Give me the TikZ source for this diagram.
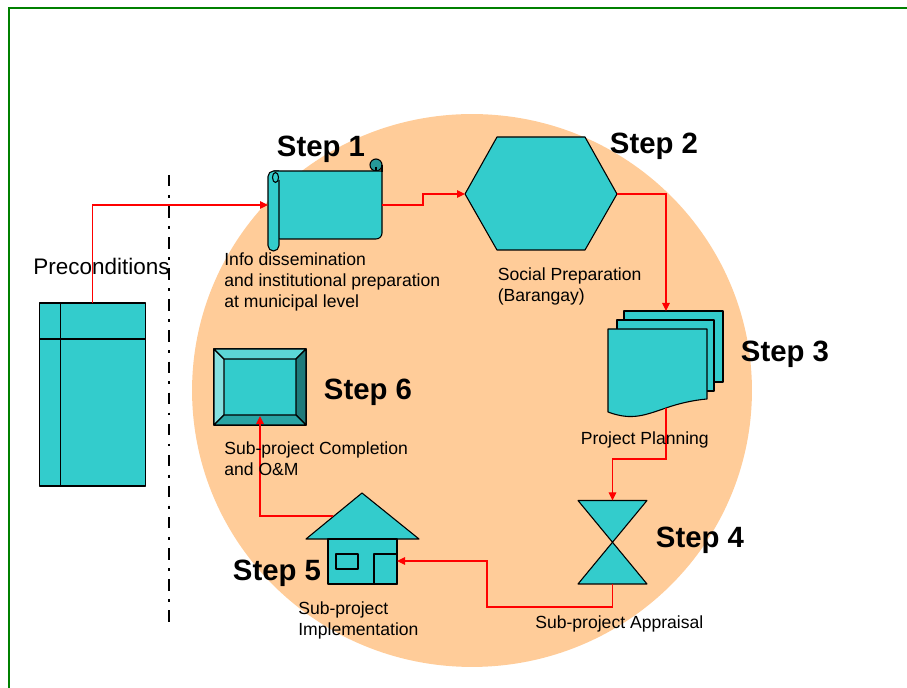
\documentclass[tikz,border=0pt]{standalone}
\usepackage{fontspec}
\setmainfont{Liberation Sans}
\usetikzlibrary{arrows.meta}
\definecolor{tealfill}{HTML}{33CCCC}
\definecolor{peach}{HTML}{FFCC99}
\begin{document}
\begin{tikzpicture}
[x=0.02cm,y=-0.02cm,%
  flowshape/.style={draw=black,line width=0.62pt,fill=tealfill,line join=round},
  anchorbox/.style={inner sep=0pt,outer sep=0pt},
  link/.style={draw=red,line width=0.62pt,-{Triangle[length=0.16cm,width=0.15cm]}},
  steplabel/.style={font=\fontsize{16.7}{20}\selectfont\bfseries,inner sep=0pt},
  infolabel/.style={font=\fontsize{10}{12}\selectfont,align=left,anchor=west,inner sep=0pt}]
\useasboundingbox (0,0) rectangle (907,688);
% frame and background
\draw[draw=green!50!black,line width=0.9pt] (907,8) -- (9,8) -- (9,688);
\fill[peach] (472,390.5) ellipse [x radius=5.6cm,y radius=5.53cm];
\draw[line width=1.7pt,dash pattern=on 6.5pt off 4.8pt on 1.6pt off 4.8pt] (169,175) -- (169,623);
% preconditions
\node[flowshape,anchorbox,minimum width=2.12cm,minimum height=3.66cm] (precond) at (92.8,394.5) {};
\draw[line width=0.62pt] (60.8,303) -- (60.8,486) (39.8,339) -- (145.8,339);
% step 1
\node[anchorbox,minimum width=2.28cm,minimum height=1.36cm] (scroll) at (325,205) {};
\draw[flowshape,fill=tealfill!75!black] (376,165) circle [radius=0.12cm];
\draw[flowshape] (274,171) -- (382,171) [rounded corners=0.12cm] -- (382,239) -- (274,239) [sharp corners] -- cycle;
\draw[line width=0.62pt] (382,165) -- (382,172) (376,167) -- (376,171);
\draw[flowshape,rounded corners=0.11cm] (279,180) -- (279,251) -- (268,251) -- (268,171) -- (279,171);
\draw[line width=0.62pt] (275.5,177.5) ellipse [x radius=0.06cm,y radius=0.1cm];
% step 2
\node[anchorbox,minimum width=3.04cm,minimum height=2.26cm] (hex) at (541,194) {};
\draw[flowshape] (hex.west) -- (497,137) -- (585,137) -- (hex.east) -- (585,250) -- (497,250) -- cycle;
% step 3
\coordinate (stackin) at (666,311);
\coordinate (stackout) at (666,408);
\draw[flowshape] (624,311) rectangle (723,382);
\draw[flowshape] (617,320) rectangle (714,391);
\draw[flowshape] (608,329) -- (707,329) -- (707,399)
  .. controls (695,400) and (680,403) .. (stackout)
  .. controls (645,415) and (632,421) .. (608,412) -- cycle;
% step 4
\node[anchorbox,minimum width=1.38cm,minimum height=1.67cm] (hourglass) at (612.5,542.2) {};
\draw[flowshape] (578,500.5) -- (647,500.5) -- (578,584) -- (647,584) -- cycle;
% step 5
\coordinate (roofout) at (333,516);
\coordinate (housein) at (397,561);
\draw[flowshape] (362,493) -- (419,539) -- (306,539) -- cycle;
\node[flowshape,anchorbox,minimum width=1.38cm,minimum height=0.9cm] (house) at (362.5,561.5) {};
\node[flowshape,anchorbox,minimum width=0.44cm,minimum height=0.3cm] (window) at (347,561.5) {};
\node[flowshape,anchorbox,minimum width=0.46cm,minimum height=0.6cm] (door) at (385.5,569) {};
% step 6
\node[flowshape,anchorbox,minimum width=1.84cm,minimum height=1.52cm] (bevel) at (260,387) {};
\draw[flowshape,fill=tealfill!60!white] (214,349) -- (224,359) -- (224,415) -- (214,425) -- cycle;
\draw[flowshape,fill=tealfill!80!white] (214,349) -- (306,349) -- (296,359) -- (224,359) -- cycle;
\draw[flowshape,fill=tealfill!60!black] (306,349) -- (306,425) -- (296,415) -- (296,359) -- cycle;
\draw[flowshape,fill=tealfill!80!black] (214,425) -- (224,415) -- (296,415) -- (306,425) -- cycle;
% connectors
\draw[link] (precond.north) |- (scroll.west);
\draw[link] (scroll.east) -- ++(41,0) |- (hex.west);
\draw[link] (hex.east) -| (stackin);
\draw[link] (stackout) |- (612.5,459) -- (hourglass.north);
\draw[link] (hourglass.south) |- (487,607) |- (housein);
\draw[link] (roofout) -| (260,416);
% labels
\node[steplabel] (steplabela) at (321,149) {Step 1};
\node[steplabel] (steplabelb) at (654,146) {Step 2};
\node[steplabel] (steplabelc) at (785,354) {Step 3};
\node[steplabel] (steplabeld) at (700,540) {Step 4};
\node[steplabel] (steplabele) at (277,573) {Step 5};
\node[steplabel] (steplabelf) at (368,392) {Step 6};
\node[infolabel,font=\fontsize{12.8}{15}\selectfont] (precondlabel) at (33,266) {Preconditions};
\node[infolabel] (infoa) at (224,282) {Info dissemination\\and institutional preparation\\at municipal level};
\node[infolabel] (infob) at (497.5,286.5) {Social Preparation\\(Barangay)};
\node[infolabel] (infoc) at (580.5,440) {Project Planning};
\node[infolabel] (infod) at (535,624) {Sub-project Appraisal};
\node[infolabel] (infoe) at (298,620.5) {Sub-project\\Implementation};
\node[infolabel] (infof) at (224,458.5) {Sub-project Completion\\and O\&M};
\end{tikzpicture}
\end{document}
